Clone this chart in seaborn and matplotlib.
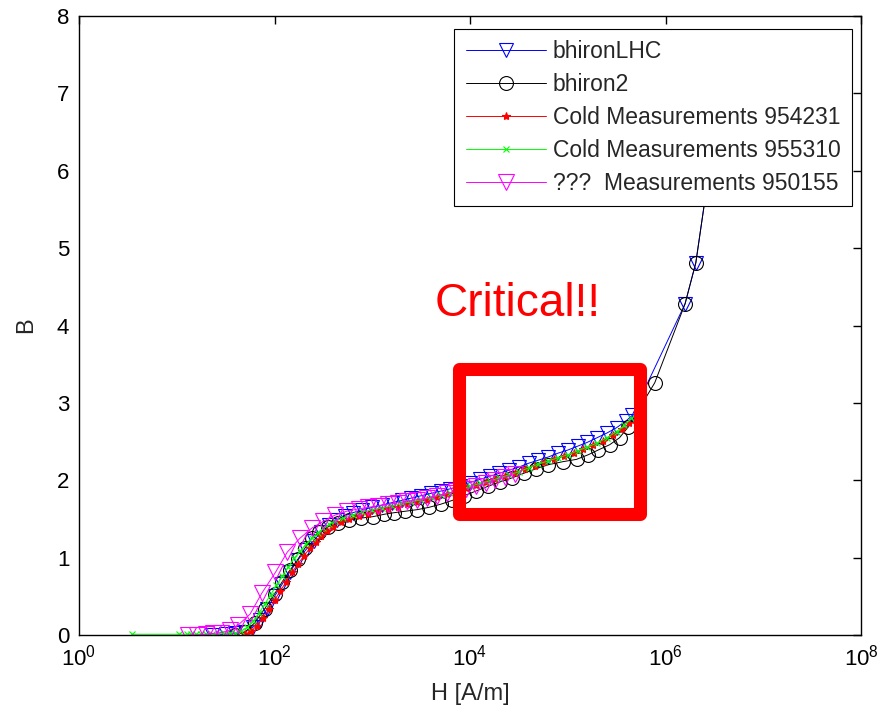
import numpy as np
import pandas as pd
import matplotlib
matplotlib.use("Agg")
import matplotlib.pyplot as plt
import matplotlib.patches as mpatches
from matplotlib.ticker import NullLocator, FixedLocator, LogFormatterSciNotation
import seaborn as sns

# ---------------- data (log10 of H in A/m, B in T) ----------------
lhc_logH = [1.36, 1.50, 1.60, 1.70, 1.78, 1.85, 1.92, 2.00, 2.08, 2.16, 2.24, 2.32,
            2.40, 2.48, 2.56, 2.64, 2.72, 2.80, 2.90, 3.00, 3.10, 3.20, 3.30, 3.40,
            3.50, 3.60, 3.70, 3.80, 3.90, 4.00, 4.10, 4.20, 4.30, 4.40, 4.50, 4.60,
            4.70, 4.80, 4.90, 5.00, 5.10, 5.20, 5.30, 5.40, 5.50, 5.60, 5.66,
            6.20, 6.31, 6.55]
lhc_B = [0.00, 0.01, 0.02, 0.04, 0.10, 0.20, 0.33, 0.50, 0.66, 0.82, 0.97, 1.10,
         1.22, 1.33, 1.42, 1.49, 1.54, 1.58, 1.62, 1.65, 1.68, 1.71, 1.74, 1.77,
         1.80, 1.83, 1.86, 1.89, 1.93, 1.97, 2.01, 2.05, 2.09, 2.13, 2.17, 2.22,
         2.26, 2.30, 2.35, 2.39, 2.44, 2.49, 2.55, 2.61, 2.68, 2.77, 2.84,
         4.28, 4.81, 6.90]

bh2_logH = [1.60, 1.70, 1.80, 1.90, 2.00, 2.08, 2.16, 2.24, 2.31, 2.38, 2.46, 2.55,
            2.65, 2.76, 2.88, 3.01, 3.12, 3.22, 3.34, 3.46, 3.58, 3.70, 3.82, 3.94,
            4.06, 4.18, 4.31, 4.43, 4.55, 4.68, 4.80, 4.95, 5.09, 5.21, 5.31, 5.43,
            5.53, 5.62, 5.89, 6.20, 6.31, 6.55]
bh2_B = [0.00, 0.04, 0.16, 0.34, 0.53, 0.69, 0.84, 0.98, 1.12, 1.25, 1.33, 1.40,
         1.45, 1.49, 1.51, 1.53, 1.56, 1.58, 1.60, 1.62, 1.65, 1.69, 1.74, 1.80,
         1.86, 1.92, 1.98, 2.03, 2.09, 2.15, 2.20, 2.24, 2.27, 2.33, 2.39, 2.46,
         2.55, 2.69, 3.26, 4.28, 4.81, 6.90]

c954231_logH = [1.70, 1.76, 1.82, 1.88, 1.94, 2.00, 2.06, 2.12, 2.18, 2.24, 2.30, 2.36,
                2.42, 2.48, 2.54, 2.60, 2.68, 2.76, 2.86, 2.96, 3.06, 3.16, 3.26, 3.36,
                3.46, 3.56, 3.66, 3.76, 3.86, 3.96, 4.06, 4.16, 4.26, 4.36, 4.46, 4.56,
                4.66, 4.76, 4.86, 4.96, 5.06, 5.16, 5.26, 5.36, 5.46, 5.56, 5.63]
c954231_B = [0.01, 0.05, 0.12, 0.22, 0.33, 0.45, 0.57, 0.69, 0.81, 0.92, 1.02, 1.12,
             1.20, 1.28, 1.35, 1.40, 1.46, 1.50, 1.54, 1.57, 1.60, 1.63, 1.66, 1.69,
             1.72, 1.75, 1.78, 1.82, 1.86, 1.90, 1.94, 1.98, 2.02, 2.06, 2.10, 2.14,
             2.19, 2.23, 2.27, 2.31, 2.35, 2.40, 2.45, 2.51, 2.58, 2.66, 2.74]

c955310_logH = [0.54, 1.02, 1.10, 1.15, 1.20, 1.25, 1.30, 1.36, 1.42, 1.48, 1.54, 1.60,
                1.66, 1.72, 1.78, 1.84, 1.90, 1.96, 2.02, 2.08, 2.14, 2.20, 2.26, 2.32,
                2.38, 2.44, 2.50, 2.56, 2.62, 2.70, 2.80, 2.90, 3.00, 3.10, 3.20, 3.30,
                3.40, 3.50, 3.60, 3.70, 3.80, 3.90, 4.00, 4.10, 4.20, 4.30, 4.40, 4.50,
                4.60, 4.70, 4.80, 4.90, 5.00, 5.10, 5.20, 5.30, 5.40, 5.50, 5.58, 5.65]
c955310_B = [0.01, 0.01, 0.01, 0.01, 0.01, 0.01, 0.01, 0.01, 0.01, 0.02, 0.02, 0.03,
             0.05, 0.10, 0.18, 0.28, 0.40, 0.52, 0.64, 0.76, 0.88, 0.99, 1.08, 1.17,
             1.25, 1.32, 1.38, 1.43, 1.47, 1.51, 1.55, 1.59, 1.62, 1.64, 1.67, 1.70,
             1.72, 1.75, 1.78, 1.81, 1.84, 1.88, 1.92, 1.96, 1.99, 2.03, 2.07, 2.11,
             2.16, 2.21, 2.25, 2.29, 2.33, 2.38, 2.43, 2.48, 2.55, 2.63, 2.71, 2.80]

m950155_logH = [1.12, 1.21, 1.30, 1.37, 1.45, 1.54, 1.63, 1.75, 1.87, 2.01, 2.13, 2.26,
                2.38, 2.50, 2.62, 2.74, 2.86, 2.96, 3.06, 3.16, 3.26, 3.36, 3.46, 3.56,
                3.66, 3.76, 3.86, 3.96, 4.06, 4.16, 4.26, 4.36, 4.46]
m950155_B = [0.00, 0.00, 0.01, 0.02, 0.03, 0.06, 0.13, 0.27, 0.54, 0.81, 1.07, 1.25,
             1.38, 1.47, 1.55, 1.60, 1.63, 1.65, 1.67, 1.69, 1.71, 1.73, 1.75, 1.77,
             1.80, 1.83, 1.86, 1.89, 1.92, 1.96, 2.00, 2.04, 2.08]

series_names = ["bhironLHC", "bhiron2", "Cold Measurements 954231",
                "Cold Measurements 955310", "???  Measurements 950155"]
series_data = [(lhc_logH, lhc_B), (bh2_logH, bh2_B), (c954231_logH, c954231_B),
               (c955310_logH, c955310_B), (m950155_logH, m950155_B)]

x_ticks = [1e0, 1e2, 1e4, 1e6, 1e8]
y_ticks = [0, 1, 2, 3, 4, 5, 6, 7, 8]
annotation = "Critical!!"
x_label = "H [A/m]"
y_label = "B"

# ---------------- style ----------------
sns.set_style("white")
plt.rcParams["font.family"] = ["Liberation Sans", "DejaVu Sans"]
plt.rcParams["mathtext.fontset"] = "custom"
plt.rcParams["mathtext.rm"] = "Liberation Sans"
plt.rcParams["mathtext.it"] = "Liberation Sans"

styles = [
    dict(color="#0000FF", marker="v", markersize=10, markerfacecolor="none"),
    dict(color="#000000", marker="o", markersize=10, markerfacecolor="none"),
    dict(color="#FF0000", marker="*", markersize=6, markerfacecolor="#FF0000"),
    dict(color="#00FF00", marker="x", markersize=5, markerfacecolor="#00FF00"),
    dict(color="#FF00FF", marker="v", markersize=11, markerfacecolor="none"),
]

fig = plt.figure(figsize=(8.8, 7.11), dpi=100)
fig.patch.set_facecolor("white")
ax = fig.add_axes([79 / 880, 1 - 635 / 711, (861 - 79) / 880, (635 - 16) / 711])

frames = []
for name, (lh, b) in zip(series_names, series_data):
    frames.append(pd.DataFrame({"H": 10 ** np.asarray(lh, dtype=float),
                                "B": np.asarray(b, dtype=float),
                                "series": name}))
df = pd.concat(frames, ignore_index=True)

for name, st in zip(series_names, styles):
    sub = df[df["series"] == name]
    sns.lineplot(data=sub, x="H", y="B", ax=ax, sort=False, estimator=None,
                 label=name, color=st["color"], linewidth=0.7,
                 marker=st["marker"], markersize=st["markersize"],
                 markerfacecolor=st["markerfacecolor"],
                 markeredgecolor=st["color"], markeredgewidth=0.8)

ax.set_xscale("log")
ax.set_xlim(1e0, 1e8)
ax.set_ylim(0, 8)
ax.xaxis.set_major_locator(FixedLocator(x_ticks))
ax.xaxis.set_major_formatter(LogFormatterSciNotation())
ax.xaxis.set_minor_locator(NullLocator())
ax.set_yticks(y_ticks)
ax.tick_params(axis="both", which="major", direction="in", length=6, width=1,
               top=True, right=True, labelsize=16, colors="black")
ax.tick_params(axis="x", pad=7)
ax.tick_params(axis="y", pad=7)
for sp in ax.spines.values():
    sp.set_visible(True)
    sp.set_color("black")
    sp.set_linewidth(1.0)

ax.set_xlabel(x_label, fontsize=17, labelpad=9)
ax.set_ylabel(y_label, fontsize=17, labelpad=14)

# red highlight box
x0, x1 = 10 ** 3.89, 10 ** 5.74
rect = mpatches.Rectangle((x0, 1.57), x1 - x0, 3.44 - 1.57, fill=False,
                          edgecolor="#FF0000", linewidth=9.4, joinstyle="round",
                          zorder=10)
ax.add_patch(rect)
ax.text(10 ** 3.64, 4.12, annotation, color="#FF0000", fontsize=33,
        ha="left", va="baseline", zorder=11)

leg = ax.legend(loc="upper right", bbox_to_anchor=(852 / 880, 1 - 29 / 711),
                bbox_transform=fig.transFigure, borderaxespad=0,
                fontsize=16.5, frameon=True, fancybox=False, framealpha=1,
                edgecolor="black", handlelength=3.5, handletextpad=0.3,
                labelspacing=0.43, borderpad=0.5)
leg.get_frame().set_linewidth(0.8)
leg.set_zorder(20)

fig.savefig("out.png", dpi=100, facecolor="white")
